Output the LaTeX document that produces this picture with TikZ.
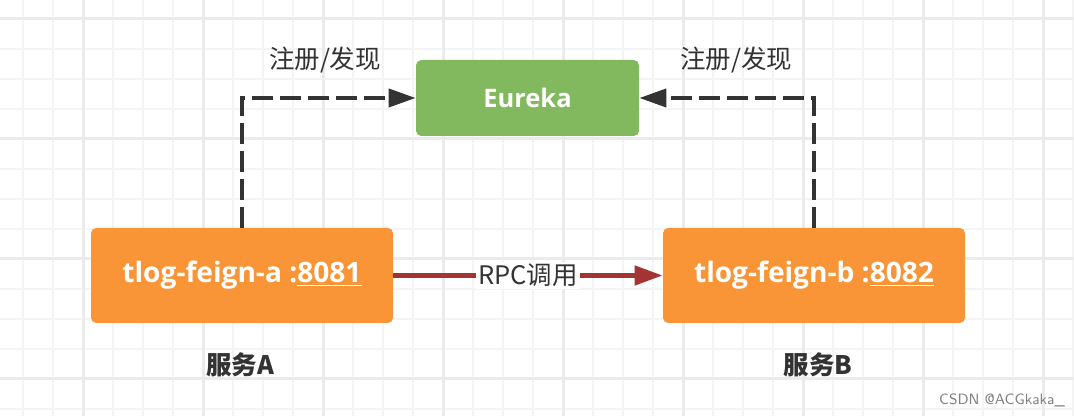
\documentclass[tikz,border=0pt]{standalone}
\usepackage{fontspec}
\setmainfont{Open Sans}
\newfontfamily\cjk{Noto Sans CJK SC}
\usetikzlibrary{arrows.meta,positioning}

\definecolor{eurekagreen}{HTML}{82B95E}
\definecolor{svcorange}{HTML}{F99537}
\definecolor{rpcred}{HTML}{A33434}
\definecolor{inkgray}{HTML}{333333}
\definecolor{gridminor}{HTML}{F4F4F4}
\definecolor{gridmajor}{HTML}{EBEBEB}

\begin{document}
\begin{tikzpicture}[
  >=Stealth,
  svc/.style={
    rectangle, fill=svcorange, rounded corners=3pt, text=white,
    minimum width=6.04cm, minimum height=1.9cm,
    font=\fontsize{16}{18}\selectfont\bfseries
  },
  reg/.style={
    rectangle, fill=eurekagreen, rounded corners=3pt, text=white,
    minimum width=4.46cm, minimum height=1.52cm,
    font=\fontsize{14.5}{16}\selectfont\bfseries
  },
  lbl/.style={font=\cjk\fontsize{14.5}{16}\selectfont, text=inkgray},
  svcname/.style={font=\cjk\fontsize{14.5}{16}\selectfont\bfseries, text=inkgray},
  dashline/.style={
    draw=inkgray, line width=0.08cm, dash pattern=on 0.42cm off 0.14cm,
    -{Triangle[length=0.54cm,width=0.36cm]}
  },
  rpc/.style={draw=rpcred, line width=0.09cm, -{Triangle[length=0.56cm,width=0.38cm]}}
]

% Hintergrund / Raster
\useasboundingbox (0,0) rectangle (21.48,-8.32);
\fill[white] (0,0) rectangle (21.48,-8.32);
\begin{scope}[shift={(1.66,-0.38)}]
  \draw[gridminor, line width=0.05cm, step=0.6] (-1.66,0.38) grid (19.82,-7.94);
  \draw[gridmajor, line width=0.06cm, step=2.4] (-1.66,0.38) grid (19.82,-7.94);
\end{scope}

% Registry
\node[reg] (eureka) at (10.55, -1.96) {Eureka};

% Services
\node[svc] (svcA) at (4.84, -5.51) {tlog-feign-a :\underline{8081}};
\node[svc] (svcB) at (16.28, -5.51) {tlog-feign-b :\underline{8082}};

% Beschriftungen
\node[lbl] (regA) at (6.50, -1.20) {注册/发现};
\node[lbl] (regB) at (14.72, -1.20) {注册/发现};
\node[svcname] (nameA) at (4.80, -7.30) {服务A};
\node[svcname] (nameB) at (16.36, -7.30) {服务B};
\node[font=\fontsize{8.5}{10}\selectfont\sffamily, text=gray] (mark) at (20.04, -8.00) {CSDN @ACGkaka\_};

% Registrierung
\draw[dashline] (svcA.north) |- (eureka.west);
\draw[dashline] (svcB.north) |- (eureka.east);

% Aufruf
\draw[rpc] (svcA.east) -- node[lbl, fill=white, inner sep=1pt]{RPC调用} (svcB.west);

\end{tikzpicture}
\end{document}
